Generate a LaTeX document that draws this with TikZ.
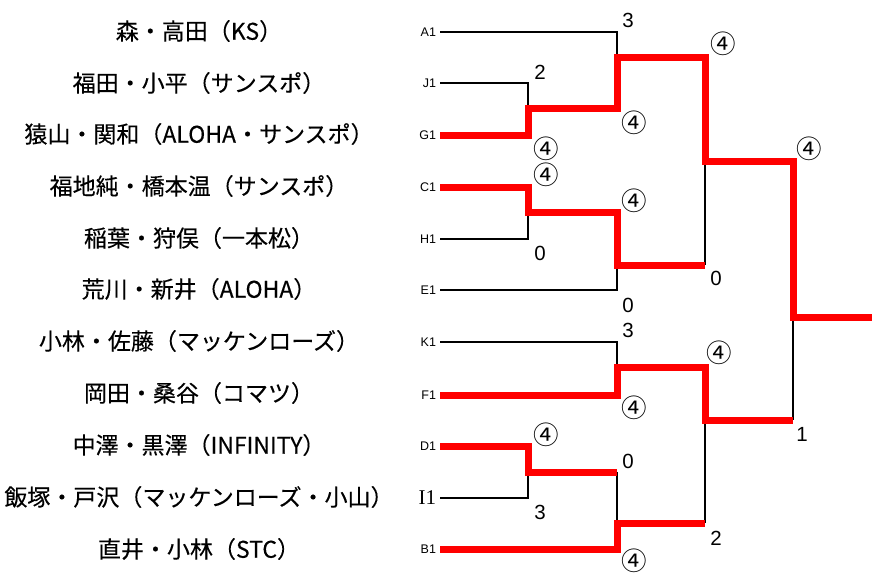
\documentclass[tikz,border=0pt]{standalone}
\usepackage{fontspec}
\setmainfont{Liberation Sans}
\newfontfamily\jp[FakeBold=0.3]{Noto Sans CJK JP}
\newfontfamily\jpc{Noto Sans CJK JP}
\newfontfamily\serifI{Liberation Serif}
\tikzset{
  pname/.style={font=\jp\fontsize{23}{27}\selectfont, anchor=center, inner sep=0pt},
  pcode/.style={font=\fontsize{12.5}{14}\selectfont, anchor=east, inner sep=0pt, outer xsep=4pt},
  pscore/.style={font=\fontsize{20.5}{24}\selectfont, inner sep=0pt},
  pwin/.style={font=\jpc\fontsize{25.5}{29}\selectfont, inner sep=0pt},
  loser/.style={line width=2.6pt, black},
  winner/.style={line width=7pt, red, line join=miter},
}
\begin{document}
\begin{tikzpicture}[x=1pt,y=-1pt]
\useasboundingbox (0,0) rectangle (872,573);
% names
\node[pname] (nA1) at (199,31) {森・高田（KS）};
\node[pname] (nJ1) at (199,83) {福田・小平（サンスポ）};
\node[pname] (nG1) at (199,134) {猿山・関和（ALOHA・サンスポ）};
\node[pname] (nC1) at (199,186) {福地純・橋本温（サンスポ）};
\node[pname] (nH1) at (199,238) {稲葉・狩俣（一本松）};
\node[pname] (nE1) at (199,289) {荒川・新井（ALOHA）};
\node[pname] (nK1) at (199,341) {小林・佐藤（マッケンローズ）};
\node[pname] (nF1) at (199,393) {岡田・桑谷（コマツ）};
\node[pname] (nD1) at (199,445) {中澤・黒澤（INFINITY）};
\node[pname] (nI1) at (199,497) {飯塚・戸沢（マッケンローズ・小山）};
\node[pname] (nB1) at (199,549) {直井・小林（STC）};
% codes
\node[pcode] (cA1) at (440,32) {A1};
\node[pcode] (cJ1) at (440,83) {J1};
\node[pcode] (cG1) at (440,135) {G1};
\node[pcode] (cC1) at (440,187) {C1};
\node[pcode] (cH1) at (440,239) {H1};
\node[pcode] (cE1) at (440,290) {E1};
\node[pcode] (cK1) at (440,342) {K1};
\node[pcode] (cF1) at (440,395) {F1};
\node[pcode] (cD1) at (440,446) {D1};
\node[pcode, font=\serifI\fontsize{21}{24}\selectfont] (cI1) at (440,498) {I1};
\node[pcode] (cB1) at (440,549) {B1};
% junctions
\coordinate (m1) at (528,108);
\coordinate (m2) at (528,212);
\coordinate (m3) at (617,57);
\coordinate (m4) at (617,265);
\coordinate (m5) at (705,161);
\coordinate (m6) at (617,367);
\coordinate (m7) at (528,472);
\coordinate (m8) at (617,523);
\coordinate (m9) at (705,420);
\coordinate (m10) at (793,317);
\coordinate (out) at (872,317);
% losing lines
\draw[loser] (cA1.east) -| (m3);
\draw[loser] (cJ1.east) -| (m1);
\draw[loser] (cH1.east) -| (m2);
\draw[loser] (cE1.east) -| (m4);
\draw[loser] (m5) -- (m4 -| m5);
\draw[loser] (cK1.east) -| (m6);
\draw[loser] (cI1.east) -| (m7);
\draw[loser] (m7 -| m8) -- (m8);
\draw[loser] (m9) -- (m8 -| m9);
\draw[loser] (m10) -- (m9 -| m10);
% winning lines
\draw[winner] (cG1.east) -| (m1) -| (m3) -| (m5) -| (m10) -- (out);
\draw[winner] (cC1.east) -| (m2) -| (m4) -- (m4 -| m5);
\draw[winner] (cF1.east) -| (m6) -| (m9) -- (m9 -| m10);
\draw[winner] (cD1.east) -| (m7) -- (m7 -| m8);
\draw[winner] (cB1.east) -| (m8) -- (m8 -| m9);
% scores
\node[pscore] (sA1) at (628,20) {3};
\node[pscore] (sJ1) at (540,72) {2};
\node[pwin] (sG1a) at (634,123) {④};
\node[pwin] (sG1) at (546,149) {④};
\node[pwin] (sC1) at (546,175) {④};
\node[pwin] (sC1b) at (634,201) {④};
\node[pscore] (sH1) at (540,253) {0};
\node[pscore] (sE1) at (628,305) {0};
\node[pscore] (sK1) at (628,330) {3};
\node[pwin] (sF1) at (634,408) {④};
\node[pwin] (sD1) at (546,435) {④};
\node[pscore] (sD1b) at (628,461) {0};
\node[pscore] (sI1) at (540,512) {3};
\node[pwin] (sB1) at (634,561) {④};
\node[pwin] (sQ1) at (723,44) {④};
\node[pscore] (sQ2) at (716,278) {0};
\node[pwin] (sQ3) at (719,353) {④};
\node[pscore] (sQ4) at (716,538) {2};
\node[pwin] (sS1) at (809,149) {④};
\node[pscore] (sS2) at (802,434) {1};
\end{tikzpicture}
\end{document}
